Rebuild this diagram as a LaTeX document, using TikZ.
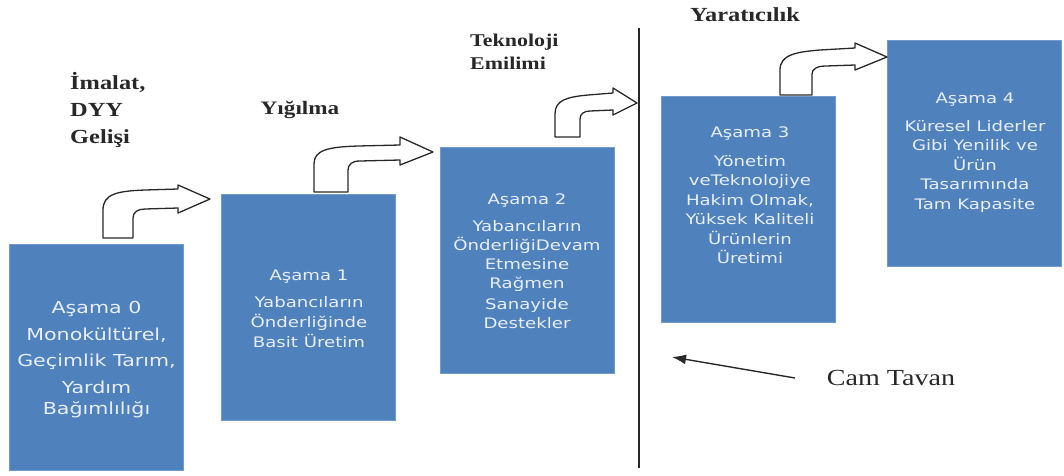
\documentclass[tikz,border=0pt]{standalone}
\usepackage{fontspec}
\newfontfamily\boxfont[FakeStretch=1.25]{DejaVu Sans}
\newfontfamily\lblfont[FakeStretch=1.22]{Liberation Serif}
\usetikzlibrary{arrows.meta}
\definecolor{stageblue}{RGB}{79,129,189}
\definecolor{stagetext}{RGB}{232,238,246}
\definecolor{inkgray}{RGB}{40,40,40}
\begin{document}
\begin{tikzpicture}[x=1pt,y=-1pt,
  stagebox/.style={fill=stageblue, draw=stageblue!80!white, line width=0.8pt,
    inner sep=0pt, outer sep=0pt, minimum width=174pt, minimum height=226pt},
  stagetxt/.style={text=stagetext, align=center, inner sep=0pt,
    font=\boxfont\fontsize{14.5}{19.5}\selectfont},
  phaselabel/.style={text=inkgray, align=left, inner sep=0pt, anchor=west,
    font=\lblfont\bfseries\fontsize{19}{27}\selectfont},
  bentarrow/.style={draw=inkgray, fill=white, line width=1.3pt, line join=round},
  ceiling/.style={draw=inkgray, line width=2.6pt},
  camarrow/.style={draw=inkgray, line width=1.4pt, -{Latex[length=14pt,width=10pt]}}
]
\useasboundingbox (0,0) rectangle (1064,475);

% stage boxes
\node[stagebox] (s0) at (96.5,357.5) {};
\node[stagebox] (s1) at (308,307.5) {};
\node[stagebox] (s2) at (527.5,260) {};
\node[stagebox] (s3) at (748.5,209.5) {};
\node[stagebox] (s4) at (974.5,153.5) {};

% box texts
\node[stagetxt, font=\boxfont\fontsize{16.5}{21}\selectfont] (t0) at (96.5,360)
  {A\c{s}ama 0\\[6pt]Monokültürel,\\[5pt]Geçimlik Tarım,\\[6pt]Yardım\\Ba\u{g}ımlılı\u{g}ı};
\node[stagetxt, font=\boxfont\fontsize{14.5}{20}\selectfont] (t1) at (309,308.5)
  {A\c{s}ama 1\\[7pt]Yabancıların\\Önderli\u{g}inde\\Basit Üretim};
\node[stagetxt, font=\boxfont\fontsize{14.5}{19}\selectfont] (t2) at (527,261)
  {A\c{s}ama 2\\[8pt]Yabancıların\\Önderli\u{g}iDevam\\Etmesine\\Ra\u{g}men\\[2pt]Sanayide\\Destekler};
\node[stagetxt] (t3) at (750,195.5)
  {A\c{s}ama 3\\[9pt]Yönetim\\veTeknolojiye\\Hakim Olmak,\\Yüksek Kaliteli\\Ürünlerin\\Üretimi};
\node[stagetxt] (t4) at (975,152.5)
  {A\c{s}ama 4\\[8pt]Küresel Liderler\\Gibi Yenilik ve\\Ürün\\Tasarımında\\Tam Kapasite};

% phase labels
\node[phaselabel, font=\lblfont\bfseries\fontsize{20}{27}\selectfont] (l0) at (70,110)
  {\.{I}malat,\\DYY\\Geli\c{s}i};
\node[phaselabel, anchor=center] (l1) at (300,110) {Yı\u{g}ılma};
\node[phaselabel, font=\lblfont\bfseries\fontsize{18}{23}\selectfont] (l2) at (470,51.5)
  {Teknoloji\\Emilimi};
\node[phaselabel, anchor=center, font=\lblfont\bfseries\fontsize{20}{24}\selectfont] (l3) at (745,15)
  {Yaratıcılık};
\node[text=inkgray, inner sep=0pt, font=\lblfont\fontsize{23}{27}\selectfont] (cam) at (891,378)
  {Cam Tavan};

% bent arrows
\draw[bentarrow] (103,238) -- (103,210) .. controls (103,194) and (117,191) .. (145,190)
  -- (178,189) -- (178,185) -- (210,199) -- (178,213) -- (178,208) -- (145,209)
  .. controls (138,209) and (133,212) .. (133,218) -- (133,238) -- cycle;
\draw[bentarrow] (314,192) -- (314,164) .. controls (314,150) and (328,147) .. (358,146)
  -- (400,145) -- (400,137) -- (433,152) -- (400,165) -- (400,160) -- (360,161)
  .. controls (352,161) and (348,164) .. (348,171) -- (348,192) -- cycle;
\draw[bentarrow] (555,137) -- (555,114) .. controls (555,100) and (567,97) .. (588,95)
  -- (613,93) -- (613,88) -- (637,103) -- (613,115) -- (613,110) -- (590,111)
  .. controls (584,111) and (580,114) .. (580,119) -- (580,137) -- cycle;
\draw[bentarrow] (780,95) -- (780,70) .. controls (780,55) and (795,52) .. (820,50)
  -- (855,48) -- (855,43) -- (887,57) -- (855,70) -- (855,65) -- (826,66)
  .. controls (817,66) and (812,69) .. (812,74) -- (812,95) -- cycle;

% glass ceiling
\coordinate (ceilTop) at (639,28);
\coordinate (ceilBot) at (639,468);
\draw[ceiling] (ceilTop) -- (ceilBot);
\coordinate (camStart) at (795,378);
\coordinate (camEnd) at (672,357);
\draw[camarrow] (camStart) -- (camEnd);
\end{tikzpicture}
\end{document}
